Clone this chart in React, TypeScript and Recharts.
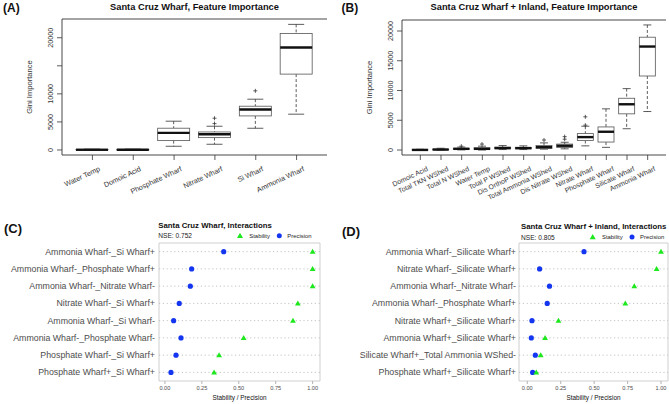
import { Bar, ComposedChart, ReferenceArea, ReferenceLine, Scatter, ScatterChart, XAxis, YAxis } from 'recharts';

const FONT = '"Liberation Sans", Arial, Helvetica, sans-serif';
const INK = '#333333';
const GREEN = '#1de81d';
const BLUE = '#1436f0';

// (A) Santa Cruz Wharf - Gini importance per feature (box stats)
const wharfFeatures = ['Water Temp', 'Domoic Acid', 'Phosphate Wharf', 'Nitrate Wharf', 'Si Wharf', 'Ammonia Wharf'];
const wharfMin = [0, 0, 660, 1020, 3870, 6380];
const wharfQ1 = [10, 10, 1670, 2200, 6070, 13520];
const wharfMedian = [40, 40, 3040, 2800, 7200, 18270];
const wharfQ3 = [80, 80, 3880, 3210, 7800, 20770];
const wharfMax = [150, 150, 5130, 4230, 9050, 22380];
const wharfOutliers: number[][] = [[], [], [], [4700, 5660], [10540], []];

// (B) Santa Cruz Wharf + Inland
const inlandFeatures = [
  'Domoic Acid',
  'Total TKN WShed',
  'Total N WShed',
  'Water Temp',
  'Total P WShed',
  'Dis OrthoP WShed',
  'Total Ammonia WShed',
  'Dis Nitrate WShed',
  'Nitrate Wharf',
  'Phosphate Wharf',
  'Silicate Wharf',
  'Ammonia Wharf',
];
const inlandMin = [0, 0, 20, 0, 80, 80, 150, 200, 700, 450, 3580, 6470];
const inlandQ1 = [0, 30, 120, 80, 200, 200, 250, 430, 1600, 1340, 6080, 12440];
const inlandMedian = [20, 80, 200, 200, 330, 320, 480, 720, 2170, 3070, 7690, 17390];
const inlandQ3 = [60, 150, 300, 380, 480, 450, 750, 1000, 2760, 3880, 8700, 18960];
const inlandMax = [120, 300, 500, 650, 750, 700, 1200, 1300, 4000, 6920, 10320, 21020];
const inlandOutliers: number[][] = [[], [], [650], [1000], [], [], [1680], [1820, 2250], [4180, 5580], [], [], []];

const giniTicks = [0, 5000, 10000, 15000, 20000];

// (C) Santa Cruz Wharf, interactions
const wharfPairs = [
  'Ammonia Wharf-_Si Wharf+',
  'Ammonia Wharf-_Phosphate Wharf+',
  'Ammonia Wharf-_Nitrate Wharf-',
  'Nitrate Wharf-_Si Wharf+',
  'Ammonia Wharf-_Si Wharf-',
  'Ammonia Wharf-_Phosphate Wharf-',
  'Phosphate Wharf-_Si Wharf+',
  'Phosphate Wharf+_Si Wharf+',
];
const wharfStability = [1, 1, 1, 0.9, 0.867, 0.533, 0.367, 0.333];
const wharfPrecision = [0.398, 0.181, 0.172, 0.097, 0.059, 0.109, 0.075, 0.041];

// (D) Santa Cruz Wharf + Inland, interactions
const inlandPairs = [
  'Ammonia Wharf-_Silicate Wharf+',
  'Nitrate Wharf-_Silicate Wharf+',
  'Ammonia Wharf-_Nitrate Wharf-',
  'Ammonia Wharf-_Phosphate Wharf+',
  'Nitrate Wharf+_Silicate Wharf+',
  'Ammonia Wharf+_Silicate Wharf+',
  'Silicate Wharf+_Total Ammonia WShed-',
  'Phosphate Wharf+_Silicate Wharf+',
];
const inlandStability = [1, 0.967, 0.8, 0.733, 0.233, 0.133, 0.1, 0.067];
const inlandPrecision = [0.424, 0.092, 0.166, 0.149, 0.035, 0.03, 0.06, 0.04];

const stabilityTicks = [0, 0.25, 0.5, 0.75, 1];

type BoxRow = {
  name: string;
  range: [number, number];
  min: number;
  max: number;
  q1: number;
  median: number;
  q3: number;
  outliers: number[];
};

const buildRows = (
  names: string[],
  mins: number[],
  q1s: number[],
  medians: number[],
  q3s: number[],
  maxs: number[],
  outliers: number[][],
): BoxRow[] =>
  names.map((name, i) => ({
    name,
    range: [mins[i], maxs[i]],
    min: mins[i],
    max: maxs[i],
    q1: q1s[i],
    median: medians[i],
    q3: q3s[i],
    outliers: outliers[i],
  }));

// draws whiskers/box/median inside the pixel span the range bar got from the y scale
const BoxShape = (props: any) => {
  const { x, y, width, height, payload } = props;
  if (x == null || y == null || !payload) return <g />;
  const top = Math.min(y, y + height);
  const bottom = Math.max(y, y + height);
  const span = payload.max - payload.min || 1;
  const toY = (v: number) => bottom - ((v - payload.min) / span) * (bottom - top);
  const cx = x + width / 2;
  const cap = width / 4;
  const yQ1 = toY(payload.q1);
  const yQ3 = toY(payload.q3);
  return (
    <g>
      <line x1={cx} x2={cx} y1={top} y2={yQ3} stroke={INK} strokeWidth={0.8} strokeDasharray="3 2" />
      <line x1={cx} x2={cx} y1={yQ1} y2={bottom} stroke={INK} strokeWidth={0.8} strokeDasharray="3 2" />
      <line x1={cx - cap} x2={cx + cap} y1={top} y2={top} stroke={INK} strokeWidth={0.8} />
      <line x1={cx - cap} x2={cx + cap} y1={bottom} y2={bottom} stroke={INK} strokeWidth={0.8} />
      <rect x={x} y={yQ3} width={width} height={Math.max(yQ1 - yQ3, 0)} fill="#fff" stroke="#555" strokeWidth={0.8} />
      <line x1={x} x2={x + width} y1={toY(payload.median)} y2={toY(payload.median)} stroke="#111" strokeWidth={2.4} />
      {payload.outliers.map((v: number) => {
        const oy = toY(v);
        return (
          <g key={v}>
            <line x1={cx - 2} x2={cx + 2} y1={oy} y2={oy} stroke={INK} strokeWidth={0.8} />
            <line x1={cx} x2={cx} y1={oy - 2} y2={oy + 2} stroke={INK} strokeWidth={0.8} />
          </g>
        );
      })}
    </g>
  );
};

const SlantTick = (props: any) => {
  const { x, y, payload, size } = props;
  return (
    <g transform={`translate(${x + 6},${y + 4})`}>
      <text textAnchor="end" dy="0.71em" transform="rotate(-25)" fontSize={size} fill={INK} fontFamily={FONT}>
        {payload.value}
      </text>
    </g>
  );
};

const GiniTick = (props: any) => {
  const { x, y, payload, hidden } = props;
  if (hidden && hidden.includes(payload.value)) return <g />;
  const ax = x - 2.4;
  return (
    <text x={ax} y={y} transform={`rotate(-90, ${ax}, ${y})`} textAnchor="middle" fontSize={7.2} fill={INK} fontFamily={FONT}>
      {payload.value}
    </text>
  );
};

const GiniLabel = (props: any) => {
  const vb = props.viewBox;
  if (!vb) return null;
  const x = vb.x + vb.width - 29.7;
  const y = vb.y + vb.height / 2;
  return (
    <text x={x} y={y} transform={`rotate(-90, ${x}, ${y})`} textAnchor="middle" fontSize={7.6} fill={INK} fontFamily={FONT}>
      Gini Importance
    </text>
  );
};

const PairTick = (props: any) => {
  const { x, y, payload } = props;
  return (
    <text x={x} y={y} textAnchor="end" dominantBaseline="central" fontSize={8.8} fill="#4d4d4d" fontFamily={FONT}>
      {payload.value}
    </text>
  );
};

type BoxPanelProps = {
  rows: BoxRow[];
  domain: [number, number];
  width: number;
  margin: { top: number; right: number; bottom: number; left: number };
  padding: number;
  barSize: number;
  labelSize: number;
  hiddenTicks?: number[];
};

const BoxPanel = ({ rows, domain, width, margin, padding, barSize, labelSize, hiddenTicks }: BoxPanelProps) => (
  <ComposedChart width={width} height={200} data={rows} margin={margin}>
    <XAxis
      dataKey="name"
      type="category"
      interval={0}
      height={45}
      padding={{ left: padding, right: padding }}
      tickSize={5}
      tickLine={{ stroke: INK, strokeWidth: 0.8 }}
      axisLine={{ stroke: INK, strokeWidth: 0.9 }}
      tick={(p: any) => <SlantTick {...p} size={labelSize} />}
    />
    <YAxis
      type="number"
      domain={domain}
      ticks={giniTicks}
      width={45}
      tickSize={5}
      tickLine={{ stroke: INK, strokeWidth: 0.8 }}
      axisLine={{ stroke: INK, strokeWidth: 0.9 }}
      tick={(p: any) => <GiniTick {...p} hidden={hiddenTicks} />}
      label={{ content: GiniLabel }}
    />
    <YAxis yAxisId="frame" orientation="right" width={0} tick={false} tickLine={false} axisLine={{ stroke: INK, strokeWidth: 0.9 }} />
    <ReferenceLine y={domain[1]} stroke={INK} strokeWidth={0.9} />
    <Bar dataKey="range" barSize={barSize} shape={BoxShape} isAnimationActive={false} />
  </ComposedChart>
);

const PrecisionDot = (props: any) => {
  const { cx, cy } = props;
  if (cx == null || cy == null) return <g />;
  return <circle cx={cx} cy={cy} r={2.6} fill={BLUE} />;
};

const StabilityTriangle = (props: any) => {
  const { cx, cy } = props;
  if (cx == null || cy == null) return <g />;
  const s = 2.9;
  return <polygon points={`${cx},${cy - s} ${cx - s},${cy + s * 0.75} ${cx + s},${cy + s * 0.75}`} fill={GREEN} />;
};

type InteractionPanelProps = {
  pairs: string[];
  stability: number[];
  precision: number[];
  width: number;
  yAxisWidth: number;
  rightMargin: number;
  domain: [number, number];
  tickMargin: number;
};

const InteractionPanel = ({ pairs, stability, precision, width, yAxisWidth, rightMargin, domain, tickMargin }: InteractionPanelProps) => {
  const stabilityPoints = pairs.map((name, i) => ({ name, value: stability[i] }));
  const precisionPoints = pairs.map((name, i) => ({ name, value: precision[i] }));
  return (
    <ScatterChart width={width} height={204} margin={{ top: 43, right: rightMargin, bottom: 0, left: 0 }}>
      <XAxis
        type="number"
        dataKey="value"
        domain={domain}
        ticks={stabilityTicks}
        allowDataOverflow
        tickFormatter={(v: number) => v.toFixed(2)}
        height={23}
        tickSize={3}
        tickMargin={2}
        axisLine={false}
        tickLine={{ stroke: '#b3b3b3' }}
        tick={{ fontSize: 5.6, fill: '#4d4d4d', fontFamily: FONT }}
        label={{ value: 'Stability / Precision', position: 'insideBottom', offset: 4, fontSize: 6.4, fill: '#111', fontFamily: FONT }}
      />
      <YAxis
        type="category"
        dataKey="name"
        allowDuplicatedCategory={false}
        reversed
        interval={0}
        width={yAxisWidth}
        tickSize={2}
        tickMargin={tickMargin}
        axisLine={false}
        tickLine={false}
        tick={(p: any) => <PairTick {...p} />}
      />
      {pairs.map((name) => (
        <ReferenceLine key={name} y={name} stroke="#bdbdbd" strokeDasharray="1.2 2.6" strokeWidth={0.9} />
      ))}
      <ReferenceArea x1={domain[0]} x2={domain[1]} fill="none" stroke="#cfcfcf" strokeWidth={1} />
      <Scatter data={precisionPoints} shape={PrecisionDot} isAnimationActive={false} />
      <Scatter data={stabilityPoints} shape={StabilityTriangle} isAnimationActive={false} />
    </ScatterChart>
  );
};

const LegendKey = ({ x, y }: { x: number; y: number }) => (
  <g>
    <polygon points={`${x},${y - 3} ${x - 3},${y + 2.2} ${x + 3},${y + 2.2}`} fill={GREEN} />
    <text x={x + 9.3} y={y} dominantBaseline="central" fontSize={5.9} fill="#222">
      Stability
    </text>
    <circle cx={x + 39.3} cy={y} r={2.5} fill={BLUE} />
    <text x={x + 47.3} y={y} dominantBaseline="central" fontSize={5.9} fill="#222">
      Precision
    </text>
  </g>
);

const wharfRows = buildRows(wharfFeatures, wharfMin, wharfQ1, wharfMedian, wharfQ3, wharfMax, wharfOutliers);
const inlandRows = buildRows(inlandFeatures, inlandMin, inlandQ1, inlandMedian, inlandQ3, inlandMax, inlandOutliers);

export default function App() {
  return (
    <div style={{ position: 'absolute', left: 0, top: 0, width: 669, height: 404, background: '#fff', overflow: 'hidden', fontFamily: FONT }}>
      <div style={{ position: 'absolute', left: 0, top: 0 }}>
        <BoxPanel
          rows={wharfRows}
          domain={[-895, 23340]}
          width={335}
          margin={{ top: 19, right: 8, bottom: 0, left: 17 }}
          padding={10}
          barSize={32}
          labelSize={7.2}
          hiddenTicks={[15000]}
        />
      </div>
      <div style={{ position: 'absolute', left: 335, top: 0 }}>
        <BoxPanel
          rows={inlandRows}
          domain={[-836, 21850]}
          width={334}
          margin={{ top: 20, right: 3, bottom: 0, left: 22 }}
          padding={8}
          barSize={16}
          labelSize={6.9}
        />
      </div>
      <div style={{ position: 'absolute', left: 0, top: 200 }}>
        <InteractionPanel
          pairs={wharfPairs}
          stability={wharfStability}
          precision={wharfPrecision}
          width={335}
          yAxisWidth={159}
          rightMargin={15}
          domain={[-0.04, 1.05]}
          tickMargin={2}
        />
      </div>
      <div style={{ position: 'absolute', left: 335, top: 200 }}>
        <InteractionPanel
          pairs={inlandPairs}
          stability={inlandStability}
          precision={inlandPrecision}
          width={334}
          yAxisWidth={184}
          rightMargin={1}
          domain={[-0.062, 1.052]}
          tickMargin={1}
        />
      </div>
      <svg width={669} height={404} style={{ position: 'absolute', left: 0, top: 0, pointerEvents: 'none' }} fontFamily={FONT}>
        <text x={3} y={8} dominantBaseline="central" fontSize={12} fontWeight="bold" fill="#111">(A)</text>
        <text x={341.5} y={8.3} dominantBaseline="central" fontSize={12} fontWeight="bold" fill="#111">(B)</text>
        <text x={4} y={228.5} dominantBaseline="central" fontSize={13} fontWeight="bold" fill="#111">(C)</text>
        <text x={342} y={231} dominantBaseline="central" fontSize={13} fontWeight="bold" fill="#111">(D)</text>
        <text x={194.5} y={6.8} textAnchor="middle" dominantBaseline="central" fontSize={9.3} fontWeight="bold" fill="#111">
          Santa Cruz Wharf, Feature Importance
        </text>
        <text x={534} y={6.8} textAnchor="middle" dominantBaseline="central" fontSize={9.3} fontWeight="bold" fill="#111">
          Santa Cruz Wharf + Inland, Feature Importance
        </text>
        <text x={158.3} y={225.3} dominantBaseline="central" fontSize={7.8} fontWeight="bold" fill="#111">
          Santa Cruz Wharf, Interactions
        </text>
        <text x={158.3} y={235.7} dominantBaseline="central" fontSize={6.6} fill="#222">NSE: 0.752</text>
        <LegendKey x={240} y={235.7} />
        <text x={521} y={226} dominantBaseline="central" fontSize={7.8} fontWeight="bold" fill="#111">
          Santa Cruz Wharf + Inland, Interactions
        </text>
        <text x={521} y={237} dominantBaseline="central" fontSize={6.6} fill="#222">NSE: 0.805</text>
        <LegendKey x={592.7} y={237} />
      </svg>
    </div>
  );
}
